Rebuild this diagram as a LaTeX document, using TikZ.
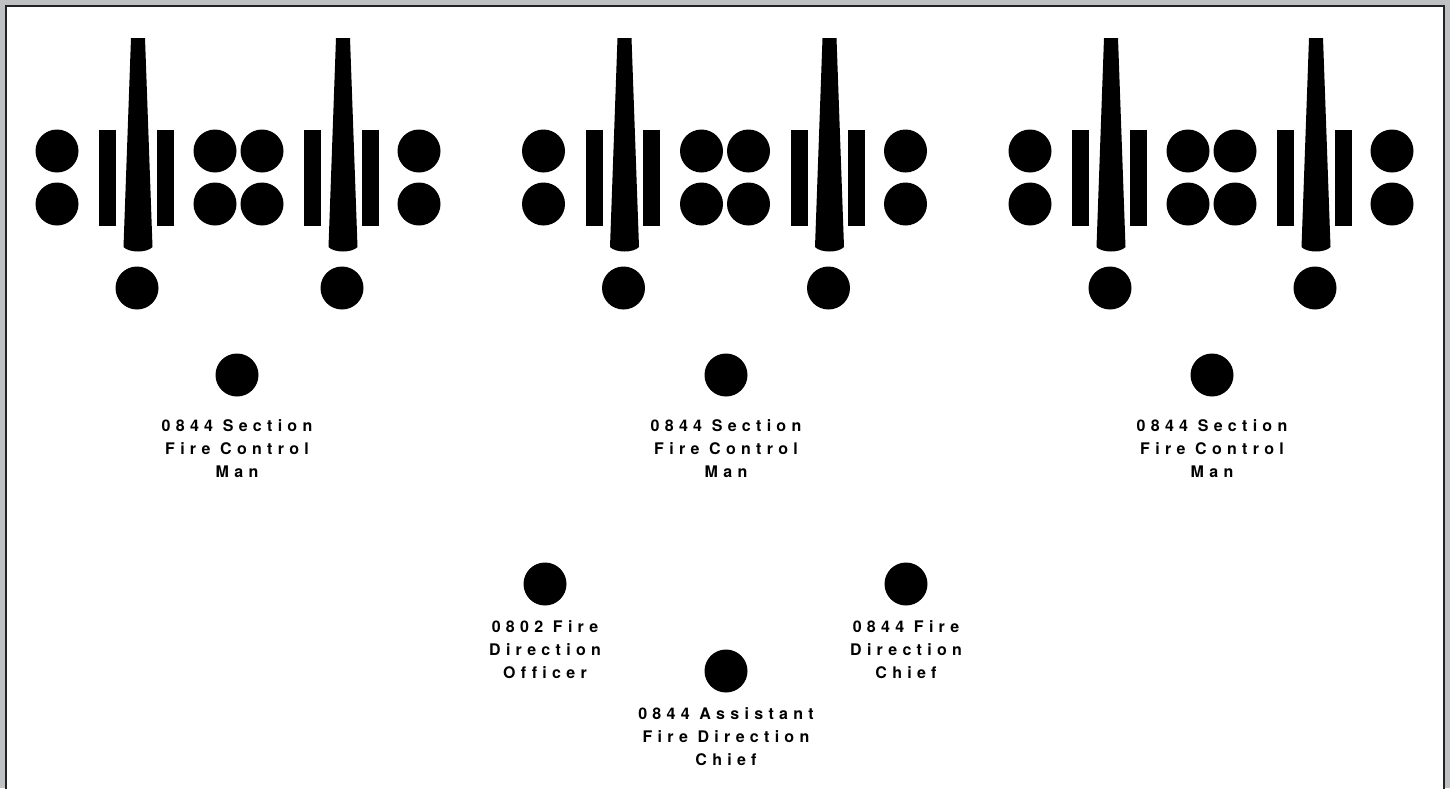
\documentclass[tikz,border=0pt]{standalone}
\usepackage{fontspec}
\newfontfamily\rolefont{texgyreheros-bold.otf}[LetterSpace=33, Ligatures=NoCommon]
\usepackage{tikz}
\usetikzlibrary{positioning}
\definecolor{framegray}{RGB}{192,193,195}
\definecolor{framedark}{RGB}{35,35,37}
\tikzstyle{man} = [circle, 
fill=black, 
inner sep=0pt, 
minimum size=43pt]
\tikzstyle{post} = [rectangle, 
fill=black, 
inner sep=0pt, 
minimum width=17pt, 
minimum height=96pt]
\tikzstyle{role} = [font=\rolefont\fontsize{16}{23}\selectfont, 
align=center, 
inner sep=0pt]

\begin{document}
\begin{tikzpicture}[x=1pt, y=-1pt, node distance=22pt]

        % --- Marco ---
        \useasboundingbox (0,0) rectangle (1450,788);
        \clip (0,0) rectangle (1450,788);
        \fill[framegray] (0,0) rectangle (1450,788);
        \fill[white] (6,6) rectangle (1444,800);
        \draw[framedark, line width=2.5pt] (6,800) -- (6,6) -- (1444,6) -- (1444,800);

        % --- Secciones (tres piezas) ---
        \foreach \g/\dx/\fx in {1/0/237, 2/486.5/726, 3/973/1212} {
            % sirvientes a los lados
            \foreach \cx/\n in {57/a, 215/b, 262/c, 419/d} {
                \node[man] (s\g\n1) at ({\cx+\dx},151) {};
                \node[man] (s\g\n2) at ({\cx+\dx},204) {};
            }
            % mástiles y tubos
            \foreach \px/\n in {107.5/a, 165/b, 312.5/c, 370/d}
                \node[post] (p\g\n) at ({\px+\dx},178) {};
            \foreach \bx/\n in {138/a, 343/b} {
                \fill ({\bx+\dx-7},38) -- ({\bx+\dx+7},38) -- ({\bx+\dx+14.5},247)
                    .. controls ({\bx+\dx+9},253) and ({\bx+\dx-9},253) .. ({\bx+\dx-14.5},247) -- cycle;
                \node[man] (gun\g\n) at ({\bx+\dx-1},288) {};
            }
            % jefe de pieza
            \node[man] (fcm\g) at (\fx,375) {};
            \node[role, below=22.5pt of fcm\g] (fcm\g-txt) {0844 Section\\Fire Control\\Man};
        }

        % --- Centro de dirección de tiro ---
        \node[man] (fdo) at (545,584) {};
        \node[role, below=14.5pt of fdo] (fdo-txt) {0802 Fire\\Direction\\Officer};
        \node[man] (fdc) at (906,584) {};
        \node[role, below=14.5pt of fdc] (fdc-txt) {0844 Fire\\Direction\\Chief};
        \node[man] (afdc) at (726,671) {};
        \node[role, below=14.5pt of afdc] (afdc-txt) {0844 Assistant\\Fire Direction\\Chief};

\end{tikzpicture}
\end{document}
